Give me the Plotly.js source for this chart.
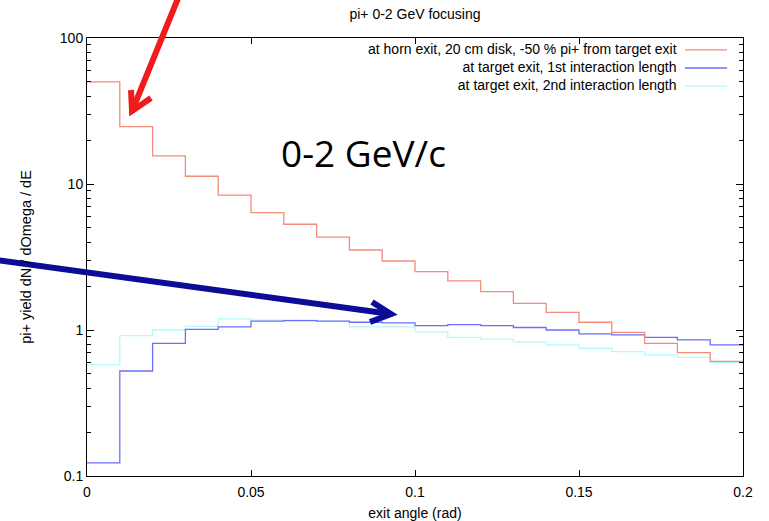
<!DOCTYPE html>
<html>
<head>
<meta charset="utf-8">
<script src="https://cdn.plot.ly/plotly-3.0.1.min.js"></script>
<style>html,body{margin:0;padding:0;background:#fff;}#chart{width:769px;height:521px;}</style>
</head>
<body>
<div id="chart"></div>
<script>
// Bin edges (rad)
const binEdges = [0, 0.01, 0.02, 0.03, 0.04, 0.05, 0.06, 0.07, 0.08, 0.09, 0.10,
                  0.11, 0.12, 0.13, 0.14, 0.15, 0.16, 0.17, 0.18, 0.19, 0.20];

// Series names
const seriesNames = [
  "at horn exit, 20 cm disk, -50 % pi+ from target exit",
  "at target exit, 1st interaction length",
  "at target exit, 2nd interaction length"
];

// Yield per bin (20 bins)
const hornExit = [50, 24.7, 15.6, 11.3, 8.4, 6.36, 5.3, 4.32, 3.53, 2.97,
                  2.51, 2.17, 1.83, 1.52, 1.32, 1.13, 0.964, 0.81, 0.70, 0.61];
const target1st = [0.123, 0.524, 0.81, 1.01, 1.05, 1.15, 1.16, 1.15, 1.13, 1.12,
                   1.07, 1.09, 1.07, 1.04, 1.0, 0.94, 0.925, 0.89, 0.855, 0.79];
const target2nd = [0.58, 0.914, 1.0, 1.06, 1.19, 1.17, 1.17, 1.15, 1.05, 1.05,
                   0.97, 0.89, 0.867, 0.83, 0.79, 0.75, 0.71, 0.675, 0.65, 0.60];

const xTickVals = [0, 0.05, 0.1, 0.15, 0.2];
const xTickText = ["0", "0.05", "0.1", "0.15", "0.2"];
const yTickVals = [0.1, 1, 10, 100];
const yTickText = ["0.1", "1", "10", "100"];
const yMinorVals = [0.2,0.3,0.4,0.5,0.6,0.7,0.8,0.9,2,3,4,5,6,7,8,9,20,30,40,50,60,70,80,90];

const colors = ["rgb(242,140,125)", "rgb(110,110,250)", "rgb(180,250,250)"];
const seriesData = [hornExit, target1st, target2nd];

// step histogram: repeat last value at right edge
const traces = seriesData.map((vals, i) => ({
  type: "scatter",
  mode: "lines",
  x: binEdges,
  y: vals.concat([vals[vals.length - 1]]),
  line: {shape: "hv", color: colors[i], width: 1.3},
  name: seriesNames[i],
  showlegend: false
}));
traces.reverse();

const W = 769, H = 521, L = 87, R = 26, T = 38, B = 45;
const pw = W - L - R, ph = H - T - B;
const px = x => (x - L) / pw;
const py = y => (H - B - y) / ph;
const font = "Liberation Sans, Arial, sans-serif";

// legend (gnuplot style: right-aligned text, sample line to its right)
const legendFont = 14;
const legendMid = 67;
const lineStep = legendFont * 1.3;
const annotations = [{
  xref: "paper", yref: "paper", x: px(678), y: py(legendMid),
  xanchor: "right", yanchor: "middle", align: "right", showarrow: false, borderpad: 0,
  text: seriesNames.join("<br>"), font: {family: font, size: legendFont, color: "#000"}
}];
annotations.push({
  xref: "paper", yref: "paper", x: px(363), y: py(152),
  xanchor: "center", yanchor: "middle", showarrow: false,
  text: "0-2 GeV/c", font: {family: "Open Sans, sans-serif", size: 37, color: "#000"}
});

const shapes = seriesNames.map((n, i) => ({
  type: "line", xref: "paper", yref: "paper",
  x0: px(685), x1: px(727),
  y0: py(legendMid + (i - 1) * lineStep + 1), y1: py(legendMid + (i - 1) * lineStep + 1),
  line: {color: colors[i], width: 1.3}
}));
function pathOf(pts) {
  return pts.map((p, k) => (k ? "L" : "M") + px(p[0]).toFixed(4) + "," + py(p[1]).toFixed(4)).join(" ");
}
// red arrow
shapes.push({type: "path", xref: "paper", yref: "paper", path: pathOf([[179,-4],[132,111]]),
  line: {color: "#f01c1c", width: 6}});
shapes.push({type: "path", xref: "paper", yref: "paper", path: pathOf([[131,90],[132,111],[151,98]]),
  line: {color: "#f01c1c", width: 6}});
// navy arrow
shapes.push({type: "path", xref: "paper", yref: "paper", path: pathOf([[-4,260],[391,314]]),
  line: {color: "#0c0c96", width: 6}});
shapes.push({type: "path", xref: "paper", yref: "paper", path: pathOf([[372,302],[391,314],[370,322]]),
  line: {color: "#0c0c96", width: 6}});

const layout = {
  width: W, height: H,
  margin: {l: L, r: R, t: T, b: B, pad: 0},
  paper_bgcolor: "#fff", plot_bgcolor: "#fff",
  showlegend: false,
  title: {text: "pi+ 0-2 GeV focusing", font: {family: font, size: 14, color: "#000"},
          x: 0.5, xref: "paper", xanchor: "center", y: 1 - 14 / H, yanchor: "middle"},
  xaxis: {
    range: [0, 0.2], tickmode: "array", tickvals: xTickVals, ticktext: xTickText,
    ticks: "inside", ticklen: 6, tickwidth: 1, tickcolor: "#000",
    showline: true, linecolor: "#000", linewidth: 1, mirror: "ticks",
    showgrid: false, zeroline: false, ticklabelstandoff: 3,
    tickfont: {family: font, size: 14, color: "#000"},
    title: {text: "exit angle (rad)", font: {family: font, size: 14, color: "#000"}, standoff: 10}
  },
  yaxis: {
    type: "log", range: [-1, 2], tickmode: "array", tickvals: yTickVals, ticktext: yTickText,
    ticks: "inside", ticklen: 7, tickwidth: 1, tickcolor: "#000",
    minor: {tickmode: "array", tickvals: yMinorVals, ticks: "inside", ticklen: 4, tickcolor: "#000", showgrid: false},
    showline: true, linecolor: "#000", linewidth: 1, mirror: "ticks",
    showgrid: false, zeroline: false,
    tickfont: {family: font, size: 14, color: "#000"},
    title: {text: "pi+ yield dN / dOmega / dE", font: {family: font, size: 14.5, color: "#000"}, standoff: 24}
  },
  annotations: annotations,
  shapes: shapes
};

Plotly.newPlot("chart", traces, layout, {displayModeBar: false, staticPlot: true});
</script>
</body>
</html>
